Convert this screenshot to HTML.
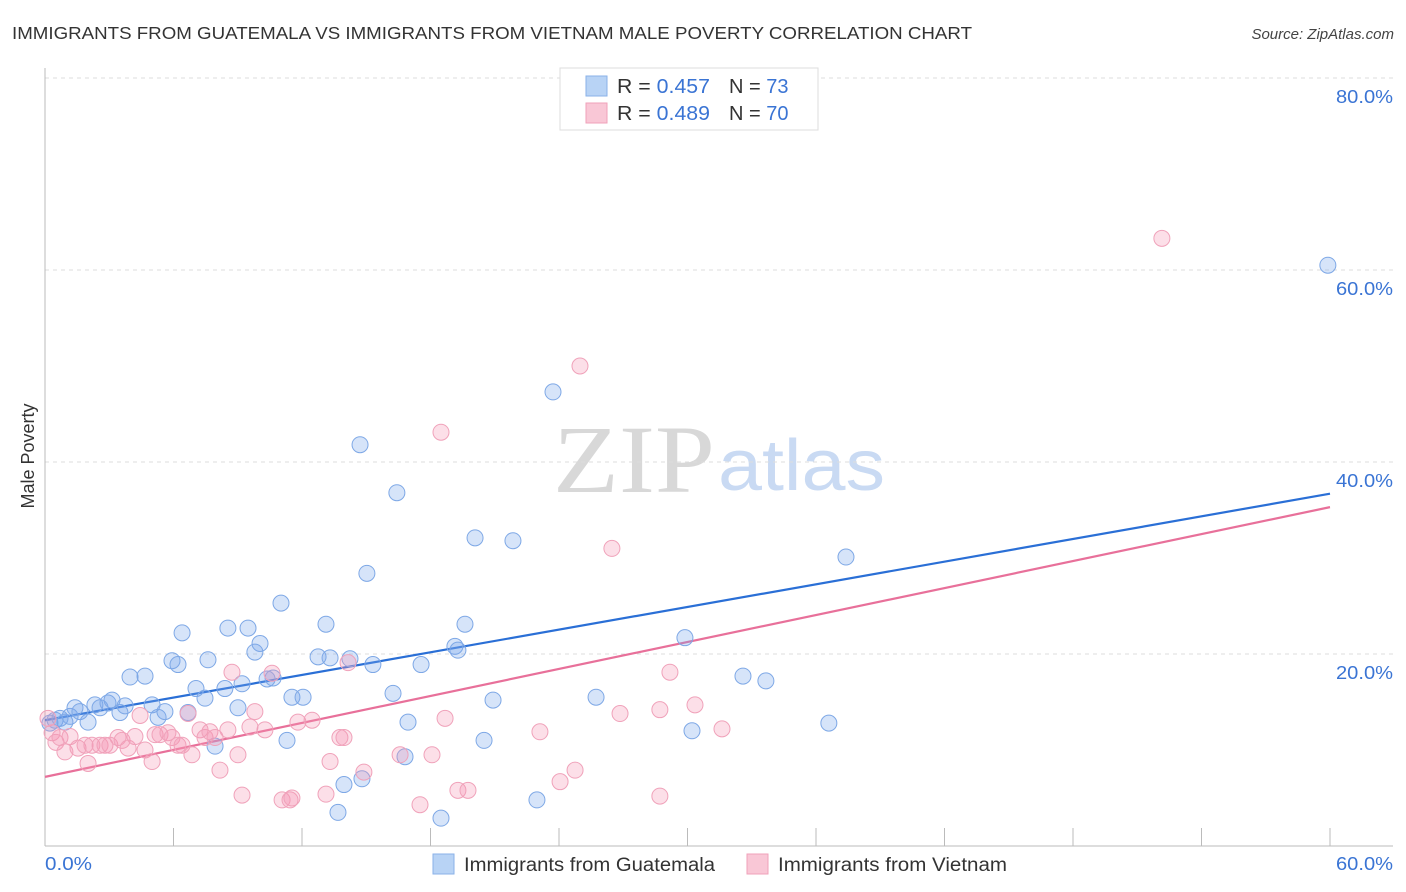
<!DOCTYPE html>
<html><head><meta charset="utf-8"><style>
body{margin:0;background:#fff;font-family:"Liberation Sans",sans-serif;}
svg{display:block}
</style></head><body>
<svg id="chart" width="1406" height="892" xmlns="http://www.w3.org/2000/svg" font-family="Liberation Sans, sans-serif">
<text x="12" y="39" font-size="17.5" fill="#333" textLength="960" lengthAdjust="spacingAndGlyphs">IMMIGRANTS FROM GUATEMALA VS IMMIGRANTS FROM VIETNAM MALE POVERTY CORRELATION CHART</text>
<text x="1394" y="39" font-size="15" fill="#444" font-style="italic" text-anchor="end">Source: ZipAtlas.com</text>
<g>
<text x="553" y="492" font-family="Liberation Serif, serif" font-size="96" fill="#d8d8d8" textLength="162" lengthAdjust="spacingAndGlyphs">ZIP</text>
<text x="718" y="490" font-size="72" fill="#c9daf3" textLength="167" lengthAdjust="spacingAndGlyphs">atlas</text>
</g>
<text transform="translate(34,456) rotate(-90)" font-size="18" fill="#333" text-anchor="middle">Male Poverty</text>
<g id="grid"></g>
<g id="axes"></g>
<g id="trend"></g>
<g id="points"></g>
<g>
<rect x="560" y="68" width="258" height="62" fill="#fff" stroke="#ddd"/>
<rect x="586" y="76" width="21" height="20" fill="#b8d3f5" stroke="#8ab2e8"/>
<text x="617" y="93" font-size="20" fill="#333"><tspan textLength="93" lengthAdjust="spacingAndGlyphs">R = <tspan fill="#3a74d4">0.457</tspan></tspan><tspan x="729">N = </tspan><tspan fill="#3a74d4">73</tspan></text>
<rect x="586" y="103" width="21" height="20" fill="#f9c7d6" stroke="#f0a2ba"/>
<text x="617" y="120" font-size="20" fill="#333"><tspan textLength="93" lengthAdjust="spacingAndGlyphs">R = <tspan fill="#3a74d4">0.489</tspan></tspan><tspan x="729">N = </tspan><tspan fill="#3a74d4">70</tspan></text>
</g>
<g>
<rect x="433" y="854" width="21" height="20" fill="#b8d3f5" stroke="#8ab2e8"/>
<text x="464" y="871" font-size="19" fill="#333" textLength="251" lengthAdjust="spacingAndGlyphs">Immigrants from Guatemala</text>
<rect x="747" y="854" width="21" height="20" fill="#f9c7d6" stroke="#f0a2ba"/>
<text x="778" y="871" font-size="19" fill="#333" textLength="229" lengthAdjust="spacingAndGlyphs">Immigrants from Vietnam</text>
</g>
</svg>
<script>
const yTicks=[20,40,60,80];
const yTickLabels=["20.0%","40.0%","60.0%","80.0%"];
const xLabels=["0.0%","60.0%"];
const xTickVals=[0,6,12,18,24,30,36,42,48,54,60];
const guatX=[0.23,0.47,0.70,0.93,1.17,1.40,1.63,2.01,2.33,2.57,2.94,3.13,3.50,3.74,3.97,4.67,5.00,5.28,5.60,5.93,6.21,6.40,6.68,7.05,7.47,7.61,7.94,8.40,8.54,9.01,9.20,9.48,9.80,10.04,10.37,10.65,11.02,11.30,11.53,12.05,12.75,13.12,13.31,13.68,13.96,14.24,14.71,14.80,15.03,15.31,16.25,16.43,16.81,16.95,17.56,18.49,19.14,19.28,19.61,20.08,20.50,20.92,21.85,22.97,23.72,25.73,29.88,30.21,32.59,33.66,36.60,37.40,59.90];
const guatY=[12.8,13.1,13.3,12.9,13.5,14.4,14.0,12.9,14.7,14.4,14.9,15.2,13.9,14.6,17.6,17.7,14.7,13.4,14.0,19.3,18.9,22.2,13.9,16.4,15.4,19.4,10.4,16.4,22.7,14.4,16.9,22.7,20.2,21.1,17.4,17.5,25.3,11.0,15.5,15.5,19.7,23.1,19.6,3.5,6.4,19.5,41.8,7.0,28.4,18.9,15.9,36.8,9.3,12.9,18.9,2.9,20.8,20.4,23.1,32.1,11.0,15.2,31.8,4.8,47.3,15.5,21.7,12.0,17.7,17.2,12.8,30.1,60.5];
const vietX=[0.14,0.33,0.51,0.70,0.93,1.17,1.54,1.87,2.01,2.19,2.57,2.80,3.03,3.41,3.60,3.88,4.20,4.44,4.67,5.00,5.14,5.37,5.74,5.93,6.21,6.40,6.68,6.86,7.24,7.47,7.70,7.94,8.17,8.54,8.73,9.01,9.20,9.57,9.80,10.27,10.60,11.07,11.44,11.53,11.81,12.47,13.12,13.31,13.77,13.96,14.15,14.89,16.58,17.51,18.07,18.49,18.68,19.28,19.75,23.11,24.05,24.75,24.98,26.47,26.85,28.71,28.71,29.18,30.35,31.61,52.15];
const vietY=[13.3,11.8,10.8,11.3,9.8,11.4,10.2,10.5,8.6,10.5,10.5,10.5,10.5,11.3,11.0,10.2,11.4,13.6,10.0,8.8,11.6,11.6,11.8,11.3,10.5,10.5,13.8,9.5,12.1,11.3,11.9,11.3,7.9,12.1,18.1,9.5,5.3,12.4,14.0,12.1,18.0,4.8,4.8,5.0,12.9,13.1,5.4,8.8,11.3,11.3,19.1,7.7,9.5,4.3,9.5,43.1,13.3,5.8,5.8,11.9,6.7,7.9,50.0,31.0,13.8,14.2,5.2,18.1,14.7,12.2,63.3];
const guatTrend=[13.1,36.7];
const vietTrend=[7.2,35.3];
const NS="http://www.w3.org/2000/svg";
const xs=v=>45+v/60*1285;
const ys=v=>846-v*9.6;
function mk(tag,attrs,parent){const e=document.createElementNS(NS,tag);for(const k in attrs)e.setAttribute(k,attrs[k]);parent.appendChild(e);return e;}
const grid=document.getElementById('grid'),axes=document.getElementById('axes'),trend=document.getElementById('trend'),pts=document.getElementById('points');
yTicks.forEach((t,i)=>{
 const l=mk('line',{x1:45,x2:1393,y1:ys(t),y2:ys(t),stroke:'#ddd','stroke-dasharray':'4,4'},grid);
 
 
 const tx=mk('text',{x:1393,y:ys(t)+25,'font-size':18.5,fill:'#3a74d4','text-anchor':'end',textLength:57,lengthAdjust:'spacingAndGlyphs'},grid);
 tx.textContent=yTickLabels[i];
 
 
});
const ax=mk('line',{x1:45,x2:1393,y1:846,y2:846,stroke:'#bbb'},axes);


const ay=mk('line',{x1:45,x2:45,y1:68,y2:846,stroke:'#bbb'},axes);


xTickVals.forEach(v=>{
 const t=mk('line',{x1:xs(v),x2:xs(v),y1:828,y2:846,stroke:'#bbb'},axes);
 
 
});
const xl0=mk('text',{x:45,y:870,'font-size':18.5,fill:'#3a74d4',textLength:47,lengthAdjust:'spacingAndGlyphs'},axes);xl0.textContent=xLabels[0];


const xl1=mk('text',{x:1393,y:870,'font-size':18.5,fill:'#3a74d4','text-anchor':'end',textLength:57,lengthAdjust:'spacingAndGlyphs'},axes);xl1.textContent=xLabels[1];


function dots(X,Y,fill,stroke,name){X.forEach((x,i)=>{
 const c=mk('circle',{cx:xs(x),cy:ys(Y[i]),r:8,fill:fill,stroke:stroke,'stroke-width':1},pts);
 
 
});}
dots(guatX,guatY,'rgba(120,165,235,0.3)','#7ea8e6','point-guatemala');
dots(vietX,vietY,'rgba(245,150,180,0.3)','#f0a2ba','point-vietnam');
const t1=mk('line',{x1:xs(0),y1:ys(guatTrend[0]),x2:xs(60),y2:ys(guatTrend[1]),stroke:'#2a6fd6','stroke-width':2.2},trend);


const t2=mk('line',{x1:xs(0),y1:ys(vietTrend[0]),x2:xs(60),y2:ys(vietTrend[1]),stroke:'#e8709a','stroke-width':2.2},trend);


</script>
</body></html>
